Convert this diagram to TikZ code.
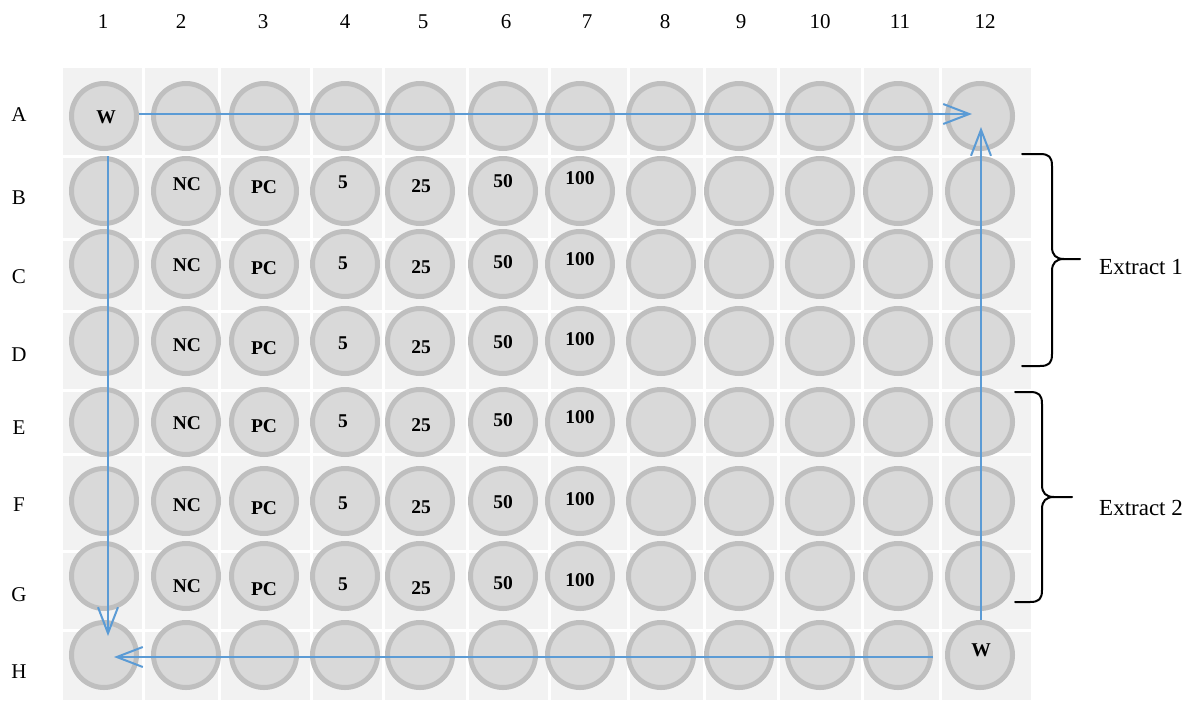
\documentclass[tikz,border=0pt]{standalone}
\usepackage{fontspec}
\setmainfont{Liberation Serif}
\usetikzlibrary{arrows.meta}
\definecolor{platebg}{HTML}{F2F2F2}
\definecolor{wellfill}{HTML}{D9D9D9}
\definecolor{wellline}{HTML}{BFBFBF}
\definecolor{flowblue}{HTML}{5B9BD5}
\tikzset{
  well/.style={circle, minimum size=65pt, inner sep=0pt, fill=wellfill, draw=wellline, line width=5pt},
  lbl/.style={inner sep=0pt, font=\bfseries\fontsize{19.5}{22}\selectfont},
  axis/.style={inner sep=0pt, font=\fontsize{21}{24}\selectfont},
  extlbl/.style={inner sep=0pt, anchor=base west, font=\fontsize{23}{26}\selectfont},
  gridline/.style={white, line width=3pt},
  flow/.style={flowblue, line width=2pt, -{Straight Barb[length=26pt,width=20pt]}},
  bracepath/.style={black, line width=2pt, line cap=round}
}
\begin{document}
\begin{tikzpicture}[x=1pt,y=-1pt]
\useasboundingbox (0,0) rectangle (1200,702);
% plate
\fill[platebg] (63,68) rectangle (1031,700);
\foreach \x in {143,219,311,383,467,549,628,704,778,862,940}
  \draw[gridline] (\x,68) -- (\x,700);
\foreach \y in {156,239,311,390,454,551,630}
  \draw[gridline] (63,\y) -- (1031,\y);
% wells
\foreach \rw/\ry in {A/116,B/191,C/264,D/341,E/422,F/501,G/576,H/655} {
  \foreach \cn/\cx in {1/104,2/186,3/264,4/345,5/420,6/503,7/580,8/661,9/739,10/820,11/898,12/980} {
    \node[well] (w\rw\cn) at (\cx,\ry) {};
  }
}
% column and row headers
\foreach \cn/\cx in {1/103,2/181,3/263,4/345,5/423,6/506,7/587,8/665,9/741,10/820,11/900,12/985}
  \node[axis] (col\cn) at (\cx,22) {\cn};
\foreach \rw/\ry in {A/115,B/198,C/277,D/355,E/428,F/505,G/595,H/672}
  \node[axis] (row\rw) at (19,\ry) {\rw};
% well labels
\foreach \rw/\ly in {B/184,C/265,D/345,E/423,F/505,G/586} {
  \foreach \cn/\txt/\dy/\lx in {2/NC/0/187,3/PC/3/264,4/5/-2/343,5/25/2/421,6/50/-3/503,7/100/-6/580} {
    \node[lbl] (l\rw\cn) at (\lx,\ly+\dy) {\txt};
  }
}
\node[lbl] (lA1) at (106,117) {W};
\node[lbl] (lH12) at (981,650) {W};
% flow arrows
\draw[flow] ([yshift=2pt]wA1.east) -- ([shift={(-8pt,2pt)}]wA12.center);
\draw[flow] ([xshift=1pt]wH12.north) -- ([shift={(1pt,-11pt)}]wA12.center);
\draw[flow] ([yshift=-2pt]wH11.east) -- ([shift={(10pt,-2pt)}]wH1.center);
\draw[flow] ([shift={(4pt,-5pt)}]wA1.south) -- ([shift={(4pt,19pt)}]wH1.center);
% braces
\draw[bracepath] (1022,154) -- (1040,154) .. controls (1049,154) and (1052,157) .. (1052,166)
  -- (1052,247) .. controls (1052,255) and (1056,259) .. (1064,259) -- (1080,259);
\draw[bracepath] (1064,259) .. controls (1056,259) and (1052,263) .. (1052,271)
  -- (1052,354) .. controls (1052,363) and (1049,366) .. (1040,366) -- (1022,366);
\draw[bracepath] (1015,392) -- (1030,392) .. controls (1039,392) and (1042,395) .. (1042,404)
  -- (1042,485) .. controls (1042,493) and (1046,497) .. (1054,497) -- (1072,497);
\draw[bracepath] (1054,497) .. controls (1046,497) and (1042,501) .. (1042,509)
  -- (1042,590) .. controls (1042,599) and (1039,602) .. (1030,602) -- (1015,602);
\node[extlbl] (ext1) at (1099,274) {Extract 1};
\node[extlbl] (ext2) at (1099,515) {Extract 2};
\end{tikzpicture}
\end{document}
